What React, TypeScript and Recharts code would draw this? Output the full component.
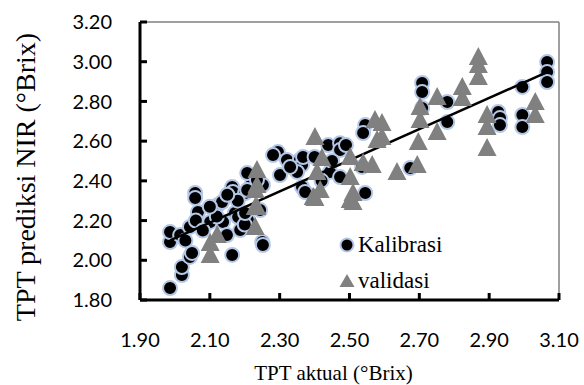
import { ScatterChart, Scatter, XAxis, YAxis, ReferenceLine, Legend } from "recharts"

// 데이터 (TPT aktual vs TPT prediksi NIR)
const kalibrasi = [
    { x: 1.986, y: 1.86 }, { x: 2.02, y: 1.926 }, { x: 2.02, y: 1.966 }, { x: 2.043, y: 2.017 },
    { x: 2.049, y: 2.037 }, { x: 1.986, y: 2.092 }, { x: 1.986, y: 2.142 }, { x: 2.015, y: 2.127 },
    { x: 2.043, y: 2.168 }, { x: 2.058, y: 2.339 }, { x: 2.058, y: 2.314 }, { x: 2.066, y: 2.243 },
    { x: 2.101, y: 2.193 }, { x: 2.123, y: 2.278 }, { x: 2.135, y: 2.293 }, { x: 2.164, y: 2.369 },
    { x: 2.166, y: 2.344 }, { x: 2.138, y: 2.193 }, { x: 2.172, y: 2.238 }, { x: 2.181, y: 2.218 },
    { x: 2.164, y: 2.027 }, { x: 2.149, y: 2.127 }, { x: 2.187, y: 2.152 }, { x: 2.25, y: 2.092 },
    { x: 2.252, y: 2.077 }, { x: 2.209, y: 2.203 }, { x: 2.201, y: 2.339 }, { x: 2.221, y: 2.389 },
    { x: 2.03, y: 2.1 }, { x: 2.06, y: 2.2 }, { x: 2.08, y: 2.15 }, { x: 2.12, y: 2.22 },
    { x: 2.18, y: 2.3 }, { x: 2.1, y: 2.27 }, { x: 2.2, y: 2.18 }, { x: 2.15, y: 2.33 },
    { x: 2.295, y: 2.545 }, { x: 2.321, y: 2.505 }, { x: 2.358, y: 2.505 }, { x: 2.364, y: 2.48 },
    { x: 2.301, y: 2.429 }, { x: 2.35, y: 2.445 }, { x: 2.364, y: 2.369 }, { x: 2.439, y: 2.58 },
    { x: 2.473, y: 2.59 }, { x: 2.473, y: 2.555 }, { x: 2.444, y: 2.445 }, { x: 2.473, y: 2.419 },
    { x: 2.545, y: 2.681 }, { x: 2.539, y: 2.641 }, { x: 2.367, y: 2.52 }, { x: 2.281, y: 2.53 },
    { x: 2.207, y: 2.439 }, { x: 2.207, y: 2.354 }, { x: 2.201, y: 2.238 }, { x: 2.252, y: 2.379 },
    { x: 2.235, y: 2.404 }, { x: 2.244, y: 2.253 }, { x: 2.536, y: 2.47 }, { x: 2.545, y: 2.339 },
    { x: 2.373, y: 2.344 }, { x: 2.49, y: 2.58 }, { x: 2.33, y: 2.47 }, { x: 2.4, y: 2.52 },
    { x: 2.45, y: 2.5 }, { x: 2.42, y: 2.4 },
    { x: 3.066, y: 2.998 }, { x: 3.066, y: 2.948 }, { x: 3.066, y: 2.898 }, { x: 2.995, y: 2.873 },
    { x: 2.708, y: 2.893 }, { x: 2.708, y: 2.847 }, { x: 2.78, y: 2.797 }, { x: 2.78, y: 2.696 },
    { x: 2.708, y: 2.767 }, { x: 2.926, y: 2.747 }, { x: 2.931, y: 2.716 }, { x: 2.931, y: 2.681 },
    { x: 2.995, y: 2.732 }, { x: 2.995, y: 2.671 }, { x: 2.674, y: 2.465 },
]

const validasi = [
    { x: 2.101, y: 2.087 }, { x: 2.101, y: 2.027 }, { x: 2.121, y: 2.127 }, { x: 2.23, y: 2.354 },
    { x: 2.23, y: 2.268 }, { x: 2.23, y: 2.168 }, { x: 2.401, y: 2.621 }, { x: 2.407, y: 2.445 },
    { x: 2.416, y: 2.354 }, { x: 2.401, y: 2.314 }, { x: 2.421, y: 2.515 }, { x: 2.502, y: 2.419 },
    { x: 2.51, y: 2.339 }, { x: 2.502, y: 2.304 }, { x: 2.502, y: 2.52 }, { x: 2.539, y: 2.49 },
    { x: 2.573, y: 2.706 }, { x: 2.579, y: 2.606 }, { x: 2.565, y: 2.48 }, { x: 2.235, y: 2.455 },
    { x: 2.235, y: 2.379 }, { x: 2.235, y: 2.268 }, { x: 2.396, y: 2.319 }, { x: 2.51, y: 2.293 },
    { x: 2.869, y: 3.024 }, { x: 2.869, y: 2.983 }, { x: 2.869, y: 2.923 }, { x: 2.823, y: 2.873 },
    { x: 2.823, y: 2.817 }, { x: 2.751, y: 2.822 }, { x: 2.751, y: 2.646 }, { x: 2.702, y: 2.772 },
    { x: 2.702, y: 2.706 }, { x: 2.697, y: 2.596 }, { x: 2.694, y: 2.48 }, { x: 2.636, y: 2.445 },
    { x: 2.894, y: 2.732 }, { x: 2.894, y: 2.671 }, { x: 2.894, y: 2.565 }, { x: 3.032, y: 2.797 },
    { x: 3.032, y: 2.732 }, { x: 2.593, y: 2.691 }, { x: 2.593, y: 2.621 },
]

// 추세선 (kalibrasi 범위)
const trendLine = [
    { x: 1.986, y: 2.1 },
    { x: 3.066, y: 2.948 },
]

const xTicks = [1.9, 2.1, 2.3, 2.5, 2.7, 2.9, 3.1]
const yTicks = [1.8, 2.0, 2.2, 2.4, 2.6, 2.8, 3.0, 3.2]

const serif = "'Liberation Serif', 'Times New Roman', serif"
const sans = "Lato, 'Open Sans', sans-serif"

const CircleDot = (p: any) => (
    <circle cx={p.cx} cy={p.cy} r={7} fill="#000" stroke="#b4c7e7" strokeWidth={2} />
)

const TriangleDot = (p: any) => (
    <path d={`M${p.cx},${p.cy - 10} L${p.cx + 9.5},${p.cy + 8} L${p.cx - 9.5},${p.cy + 8} Z`} fill="#808080" />
)

const XTitle = ({ viewBox }: any) => (
    <text
        x={viewBox.x + viewBox.width / 2 - 16}
        y={viewBox.y + 73}
        textAnchor="middle"
        dominantBaseline="central"
        fontFamily={serif}
        fontSize={21}
        fill="#000"
    >
        TPT aktual (°Brix)
    </text>
)

const YTitle = ({ viewBox }: any) => {
    const cx = viewBox.x + 25
    const cy = viewBox.y + viewBox.height / 2 + 16
    return (
        <text
            x={cx}
            y={cy}
            transform={`rotate(-90 ${cx} ${cy})`}
            textAnchor="middle"
            dominantBaseline="central"
            fontFamily={serif}
            fontSize={28}
            fill="#000"
        >
            TPT prediksi NIR (°Brix)
        </text>
    )
}

const renderLegend = (props: any) => (
    <div style={{ fontFamily: serif, fontSize: 23, color: "#000" }}>
        {(props.payload || [])
            .filter((entry: any) => entry.value !== "trend")
            .map((entry: any) => (
                <div key={entry.value} style={{ display: "flex", alignItems: "center", height: 36 }}>
                    <svg width={18} height={20} style={{ marginRight: 2 }}>
                        {entry.value === "Kalibrasi" ? (
                            <circle cx={9} cy={10} r={6.5} fill="#000" stroke="#b4c7e7" strokeWidth={2} />
                        ) : (
                            <path d="M9,3 L16.5,16 L1.5,16 Z" fill="#808080" />
                        )}
                    </svg>
                    <span>{entry.value}</span>
                </div>
            ))}
    </div>
)

export default function App() {
    return (
        <div style={{ position: "absolute", left: 0, top: 0, background: "#fff" }}>
            <ScatterChart width={584} height={385} margin={{ top: 22, right: 25, bottom: 0, left: 0 }}>
                <XAxis
                    type="number"
                    dataKey="x"
                    domain={[1.9, 3.1]}
                    ticks={xTicks}
                    tickFormatter={(v: number) => v.toFixed(2)}
                    height={85}
                    tickSize={-7}
                    tickMargin={40}
                    axisLine={{ stroke: "#000", strokeWidth: 3 }}
                    tickLine={{ stroke: "#000", strokeWidth: 3 }}
                    tick={{ fill: "#000", fontSize: 20, fontFamily: sans }}
                    allowDataOverflow
                    label={<XTitle />}
                />
                <YAxis
                    type="number"
                    dataKey="y"
                    domain={[1.8, 3.2]}
                    ticks={yTicks}
                    tickFormatter={(v: number) => v.toFixed(2)}
                    width={140}
                    tickSize={-7}
                    tickMargin={35}
                    axisLine={{ stroke: "#000", strokeWidth: 3 }}
                    tickLine={{ stroke: "#000", strokeWidth: 3 }}
                    tick={{ fill: "#000", fontSize: 20, fontFamily: sans }}
                    allowDataOverflow
                    label={<YTitle />}
                />
                <ReferenceLine y={3.2} stroke="#808080" strokeWidth={1.5} />
                <ReferenceLine x={3.1} stroke="#808080" strokeWidth={1.5} />
                <Legend
                    layout="vertical"
                    align="center"
                    verticalAlign="middle"
                    content={renderLegend}
                    wrapperStyle={{ position: "absolute", left: 338, top: 227, width: "auto" }}
                />
                <Scatter name="Kalibrasi" data={kalibrasi} shape={CircleDot} isAnimationActive={false} />
                <Scatter
                    name="trend"
                    data={trendLine}
                    line={{ stroke: "#000", strokeWidth: 2.5 }}
                    shape={() => <g />}
                    legendType="none"
                    isAnimationActive={false}
                />
                <Scatter name="validasi" data={validasi} shape={TriangleDot} isAnimationActive={false} />
            </ScatterChart>
        </div>
    )
}
